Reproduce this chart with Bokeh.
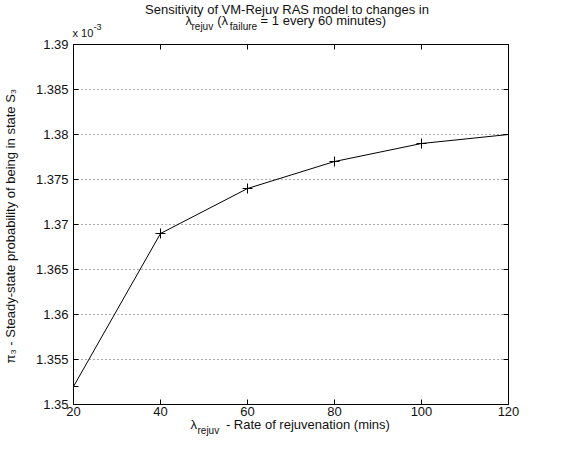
import math
from bokeh.plotting import figure
from bokeh.models import (Range1d, FixedTicker, LinearAxis, Label,
                          CustomJSTickFormatter)
from bokeh.embed import file_html
from bokeh.resources import INLINE

# ---- data ----
rejuv_minutes = [20, 40, 60, 80, 100, 120]
pi3_x1e3 = [1.352, 1.369, 1.374, 1.377, 1.379, 1.380]   # values x 10^-3
x_ticks = [20, 40, 60, 80, 100, 120]
y_ticks = [1.35, 1.355, 1.36, 1.365, 1.37, 1.375, 1.38, 1.385, 1.39]
y_tick_labels = ["1.35", "1.355", "1.36", "1.365", "1.37", "1.375", "1.38", "1.385", "1.39"]

FONT = "Liberation Sans"
FS = "13px"
SUB = "10px"
TXT = "#111111"
NB = "\u00a0"

p = figure(width=564, height=449, output_backend="svg", toolbar_location=None,
           x_range=Range1d(20, 120), y_range=Range1d(1.35, 1.39),
           min_border_left=73, min_border_right=56, min_border_top=44, min_border_bottom=45)
p.background_fill_color = "white"
p.border_fill_color = "white"
p.outline_line_color = "black"
p.outline_line_width = 1

# grids
p.xgrid.visible = False
p.ygrid.ticker = FixedTicker(ticks=y_ticks)
p.ygrid.grid_line_color = "#555555"
p.ygrid.grid_line_dash = "1 3"
p.ygrid.grid_line_width = 1

def style_axis(ax, ticks):
    ax.ticker = FixedTicker(ticks=ticks)
    ax.major_tick_in = 5
    ax.major_tick_out = 0
    ax.minor_tick_line_color = None
    ax.axis_line_color = "black"
    ax.major_tick_line_color = "black"
    ax.major_label_text_font = FONT
    ax.major_label_text_font_size = FS
    ax.major_label_text_color = TXT

style_axis(p.xaxis[0], x_ticks)
style_axis(p.yaxis[0], y_ticks)
p.xaxis[0].major_label_standoff = 2
p.yaxis[0].major_label_standoff = 5
p.yaxis[0].major_label_overrides = {t: s for t, s in zip(y_ticks, y_tick_labels)}

top_ax = LinearAxis()
right_ax = LinearAxis()
for ax, t in ((top_ax, x_ticks), (right_ax, y_ticks)):
    style_axis(ax, t)
    ax.formatter = CustomJSTickFormatter(code="return ''")
    ax.major_label_text_font_size = "1px"
    ax.major_label_standoff = 0
p.add_layout(top_ax, "above")
p.add_layout(right_ax, "right")

# data
p.line(rejuv_minutes, pi3_x1e3, line_color="black", line_width=1)
p.scatter(rejuv_minutes, pi3_x1e3, marker="cross", size=10, line_color="black", line_width=1)

# ---- texts (canvas px; put in side panels so that they are not clipped) ----
def lab(text, cx, cy, panel, size=FS, align="left", angle=0.0):
    p.add_layout(Label(x=cx, y=cy, x_units="canvas", y_units="canvas",
                       text=text, text_font=FONT, text_font_size=size,
                       text_align=align, text_baseline="middle", angle=angle,
                       text_color=TXT), panel)

# title (two lines, subscripts in a smaller line)
lab("Sensitivity of VM-Rejuv RAS model to changes in", 286.5, 9, "above", align="center")
lab("λ" + NB * 7 + "(λ" + NB * 9 + "= 1 every 60 minutes)", 185, 20, "above")
lab("rejuv" + NB * 6 + "failure", 191, 26, "above", size=SUB)

# exponent
lab("x 10", 72, 32, "right", size="11px")
lab("-3", 93, 26, "left", size="9px")

# x label
lab("λ" + NB * 7 + " - Rate of rejuvenation (mins)", 190, 424, "below")
lab("rejuv", 197, 430, "right", size=SUB)

# y label (rotated, reads bottom to top)
lab("π₃ - Steady-state probability of being in state S₃", 10, 363, "left", angle=math.pi / 2)

open("out.html", "w").write(file_html(p, INLINE))
